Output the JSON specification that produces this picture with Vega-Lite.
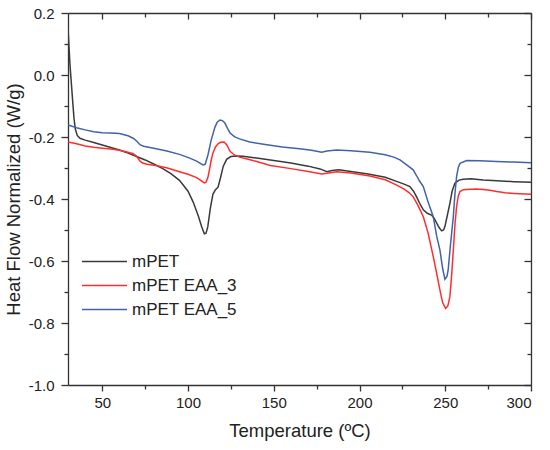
{
  "$schema": "https://vega.github.io/schema/vega-lite/v6.json",
  "width": 463,
  "height": 372,
  "autosize": {"type": "none"},
  "padding": {"left": 68, "top": 13, "right": 19, "bottom": 65},
  "background": "white",
  "config": {
    "view": {"stroke": null},
    "axis": {
      "grid": false,
      "domainColor": "#333333",
      "domainWidth": 1.3,
      "tickColor": "#333333",
      "tickWidth": 1.3,
      "labelFont": "Liberation Sans",
      "labelFontSize": 15,
      "labelColor": "#222222",
      "titleFont": "Liberation Sans",
      "titleFontSize": 18.5,
      "titleFontWeight": "normal",
      "titleColor": "#222222"
    },
    "legend": {
      "labelFont": "Liberation Sans",
      "labelFontSize": 17,
      "labelColor": "#222222"
    }
  },
  "data": {
    "values": [
      {"series": "mPET", "T": 30.0, "hf": 0.155},
      {"series": "mPET", "T": 30.5, "hf": 0.10},
      {"series": "mPET", "T": 31.2, "hf": 0.03},
      {"series": "mPET", "T": 32.0, "hf": -0.03},
      {"series": "mPET", "T": 32.8, "hf": -0.09},
      {"series": "mPET", "T": 33.5, "hf": -0.14},
      {"series": "mPET", "T": 34.3, "hf": -0.175},
      {"series": "mPET", "T": 35.4, "hf": -0.195},
      {"series": "mPET", "T": 37, "hf": -0.204},
      {"series": "mPET", "T": 40, "hf": -0.210},
      {"series": "mPET", "T": 45, "hf": -0.218},
      {"series": "mPET", "T": 50, "hf": -0.226},
      {"series": "mPET", "T": 55, "hf": -0.234},
      {"series": "mPET", "T": 60, "hf": -0.242},
      {"series": "mPET", "T": 65, "hf": -0.252},
      {"series": "mPET", "T": 70, "hf": -0.263},
      {"series": "mPET", "T": 75, "hf": -0.274},
      {"series": "mPET", "T": 80, "hf": -0.287},
      {"series": "mPET", "T": 85, "hf": -0.301},
      {"series": "mPET", "T": 90, "hf": -0.318},
      {"series": "mPET", "T": 95, "hf": -0.340},
      {"series": "mPET", "T": 100, "hf": -0.375},
      {"series": "mPET", "T": 103, "hf": -0.410},
      {"series": "mPET", "T": 106, "hf": -0.455},
      {"series": "mPET", "T": 108, "hf": -0.490},
      {"series": "mPET", "T": 109.5, "hf": -0.512},
      {"series": "mPET", "T": 110.5, "hf": -0.510},
      {"series": "mPET", "T": 111.5, "hf": -0.490},
      {"series": "mPET", "T": 113, "hf": -0.430},
      {"series": "mPET", "T": 114.5, "hf": -0.385},
      {"series": "mPET", "T": 116, "hf": -0.370},
      {"series": "mPET", "T": 117.5, "hf": -0.362},
      {"series": "mPET", "T": 119, "hf": -0.330},
      {"series": "mPET", "T": 120.5, "hf": -0.295},
      {"series": "mPET", "T": 122.5, "hf": -0.272},
      {"series": "mPET", "T": 125, "hf": -0.263},
      {"series": "mPET", "T": 128, "hf": -0.261},
      {"series": "mPET", "T": 132, "hf": -0.262},
      {"series": "mPET", "T": 140, "hf": -0.268},
      {"series": "mPET", "T": 150, "hf": -0.276},
      {"series": "mPET", "T": 160, "hf": -0.284},
      {"series": "mPET", "T": 170, "hf": -0.294},
      {"series": "mPET", "T": 177, "hf": -0.303},
      {"series": "mPET", "T": 181, "hf": -0.312},
      {"series": "mPET", "T": 184, "hf": -0.308},
      {"series": "mPET", "T": 188, "hf": -0.306},
      {"series": "mPET", "T": 195, "hf": -0.311},
      {"series": "mPET", "T": 205, "hf": -0.319},
      {"series": "mPET", "T": 215, "hf": -0.330},
      {"series": "mPET", "T": 222, "hf": -0.344},
      {"series": "mPET", "T": 226, "hf": -0.352},
      {"series": "mPET", "T": 229.4, "hf": -0.360},
      {"series": "mPET", "T": 231.5, "hf": -0.375},
      {"series": "mPET", "T": 233.3, "hf": -0.393},
      {"series": "mPET", "T": 235, "hf": -0.413},
      {"series": "mPET", "T": 237.2, "hf": -0.435},
      {"series": "mPET", "T": 239.5, "hf": -0.446},
      {"series": "mPET", "T": 242, "hf": -0.452},
      {"series": "mPET", "T": 243.5, "hf": -0.462},
      {"series": "mPET", "T": 245, "hf": -0.478},
      {"series": "mPET", "T": 246.5, "hf": -0.493},
      {"series": "mPET", "T": 247.9, "hf": -0.503},
      {"series": "mPET", "T": 249, "hf": -0.500},
      {"series": "mPET", "T": 249.8, "hf": -0.489},
      {"series": "mPET", "T": 251, "hf": -0.458},
      {"series": "mPET", "T": 252.7, "hf": -0.414},
      {"series": "mPET", "T": 254, "hf": -0.375},
      {"series": "mPET", "T": 255.6, "hf": -0.349},
      {"series": "mPET", "T": 258, "hf": -0.339},
      {"series": "mPET", "T": 260.5, "hf": -0.336},
      {"series": "mPET", "T": 265, "hf": -0.335},
      {"series": "mPET", "T": 272, "hf": -0.339},
      {"series": "mPET", "T": 280, "hf": -0.341},
      {"series": "mPET", "T": 290, "hf": -0.344},
      {"series": "mPET", "T": 300, "hf": -0.346},

      {"series": "mPET EAA_3", "T": 30, "hf": -0.216},
      {"series": "mPET EAA_3", "T": 35, "hf": -0.222},
      {"series": "mPET EAA_3", "T": 40, "hf": -0.229},
      {"series": "mPET EAA_3", "T": 45, "hf": -0.233},
      {"series": "mPET EAA_3", "T": 50, "hf": -0.236},
      {"series": "mPET EAA_3", "T": 55, "hf": -0.239},
      {"series": "mPET EAA_3", "T": 60, "hf": -0.243},
      {"series": "mPET EAA_3", "T": 65, "hf": -0.249},
      {"series": "mPET EAA_3", "T": 68, "hf": -0.254},
      {"series": "mPET EAA_3", "T": 70, "hf": -0.262},
      {"series": "mPET EAA_3", "T": 72, "hf": -0.278},
      {"series": "mPET EAA_3", "T": 73.5, "hf": -0.284},
      {"series": "mPET EAA_3", "T": 76, "hf": -0.288},
      {"series": "mPET EAA_3", "T": 82, "hf": -0.293},
      {"series": "mPET EAA_3", "T": 88, "hf": -0.300},
      {"series": "mPET EAA_3", "T": 95, "hf": -0.312},
      {"series": "mPET EAA_3", "T": 100, "hf": -0.320},
      {"series": "mPET EAA_3", "T": 105, "hf": -0.331},
      {"series": "mPET EAA_3", "T": 108, "hf": -0.342},
      {"series": "mPET EAA_3", "T": 109.5, "hf": -0.348},
      {"series": "mPET EAA_3", "T": 110.5, "hf": -0.346},
      {"series": "mPET EAA_3", "T": 111.6, "hf": -0.330},
      {"series": "mPET EAA_3", "T": 112.5, "hf": -0.305},
      {"series": "mPET EAA_3", "T": 113.5, "hf": -0.275},
      {"series": "mPET EAA_3", "T": 114.5, "hf": -0.252},
      {"series": "mPET EAA_3", "T": 116, "hf": -0.232},
      {"series": "mPET EAA_3", "T": 117.5, "hf": -0.222},
      {"series": "mPET EAA_3", "T": 119, "hf": -0.217},
      {"series": "mPET EAA_3", "T": 121, "hf": -0.216},
      {"series": "mPET EAA_3", "T": 122.5, "hf": -0.225},
      {"series": "mPET EAA_3", "T": 124.5, "hf": -0.246},
      {"series": "mPET EAA_3", "T": 127, "hf": -0.258},
      {"series": "mPET EAA_3", "T": 130, "hf": -0.265},
      {"series": "mPET EAA_3", "T": 135, "hf": -0.272},
      {"series": "mPET EAA_3", "T": 140, "hf": -0.279},
      {"series": "mPET EAA_3", "T": 148, "hf": -0.292},
      {"series": "mPET EAA_3", "T": 160, "hf": -0.302},
      {"series": "mPET EAA_3", "T": 170, "hf": -0.311},
      {"series": "mPET EAA_3", "T": 178, "hf": -0.319},
      {"series": "mPET EAA_3", "T": 181, "hf": -0.317},
      {"series": "mPET EAA_3", "T": 186.7, "hf": -0.312},
      {"series": "mPET EAA_3", "T": 195, "hf": -0.316},
      {"series": "mPET EAA_3", "T": 206, "hf": -0.326},
      {"series": "mPET EAA_3", "T": 215, "hf": -0.338},
      {"series": "mPET EAA_3", "T": 221.7, "hf": -0.355},
      {"series": "mPET EAA_3", "T": 226, "hf": -0.368},
      {"series": "mPET EAA_3", "T": 229, "hf": -0.380},
      {"series": "mPET EAA_3", "T": 231.3, "hf": -0.393},
      {"series": "mPET EAA_3", "T": 234, "hf": -0.420},
      {"series": "mPET EAA_3", "T": 237.2, "hf": -0.457},
      {"series": "mPET EAA_3", "T": 240, "hf": -0.510},
      {"series": "mPET EAA_3", "T": 243, "hf": -0.586},
      {"series": "mPET EAA_3", "T": 245, "hf": -0.640},
      {"series": "mPET EAA_3", "T": 246.9, "hf": -0.694},
      {"series": "mPET EAA_3", "T": 248.5, "hf": -0.735},
      {"series": "mPET EAA_3", "T": 250.2, "hf": -0.753},
      {"series": "mPET EAA_3", "T": 251.5, "hf": -0.745},
      {"series": "mPET EAA_3", "T": 252.7, "hf": -0.715},
      {"series": "mPET EAA_3", "T": 253.8, "hf": -0.640},
      {"series": "mPET EAA_3", "T": 254.7, "hf": -0.565},
      {"series": "mPET EAA_3", "T": 255.7, "hf": -0.480},
      {"series": "mPET EAA_3", "T": 256.6, "hf": -0.425},
      {"series": "mPET EAA_3", "T": 257.6, "hf": -0.390},
      {"series": "mPET EAA_3", "T": 258.6, "hf": -0.376},
      {"series": "mPET EAA_3", "T": 260.5, "hf": -0.370},
      {"series": "mPET EAA_3", "T": 262.5, "hf": -0.369},
      {"series": "mPET EAA_3", "T": 268, "hf": -0.368},
      {"series": "mPET EAA_3", "T": 272.2, "hf": -0.369},
      {"series": "mPET EAA_3", "T": 276, "hf": -0.372},
      {"series": "mPET EAA_3", "T": 280, "hf": -0.376},
      {"series": "mPET EAA_3", "T": 285, "hf": -0.380},
      {"series": "mPET EAA_3", "T": 290, "hf": -0.382},
      {"series": "mPET EAA_3", "T": 300, "hf": -0.385},

      {"series": "mPET EAA_5", "T": 30, "hf": -0.161},
      {"series": "mPET EAA_5", "T": 35, "hf": -0.170},
      {"series": "mPET EAA_5", "T": 40, "hf": -0.177},
      {"series": "mPET EAA_5", "T": 45, "hf": -0.183},
      {"series": "mPET EAA_5", "T": 50, "hf": -0.186},
      {"series": "mPET EAA_5", "T": 55, "hf": -0.187},
      {"series": "mPET EAA_5", "T": 60, "hf": -0.189},
      {"series": "mPET EAA_5", "T": 65, "hf": -0.196},
      {"series": "mPET EAA_5", "T": 68, "hf": -0.204},
      {"series": "mPET EAA_5", "T": 70, "hf": -0.213},
      {"series": "mPET EAA_5", "T": 72, "hf": -0.225},
      {"series": "mPET EAA_5", "T": 74, "hf": -0.230},
      {"series": "mPET EAA_5", "T": 80, "hf": -0.236},
      {"series": "mPET EAA_5", "T": 87.7, "hf": -0.245},
      {"series": "mPET EAA_5", "T": 95, "hf": -0.256},
      {"series": "mPET EAA_5", "T": 101, "hf": -0.268},
      {"series": "mPET EAA_5", "T": 105, "hf": -0.278},
      {"series": "mPET EAA_5", "T": 108.7, "hf": -0.290},
      {"series": "mPET EAA_5", "T": 110, "hf": -0.288},
      {"series": "mPET EAA_5", "T": 111.6, "hf": -0.258},
      {"series": "mPET EAA_5", "T": 113.5, "hf": -0.210},
      {"series": "mPET EAA_5", "T": 115.7, "hf": -0.168},
      {"series": "mPET EAA_5", "T": 117, "hf": -0.152},
      {"series": "mPET EAA_5", "T": 118.6, "hf": -0.145},
      {"series": "mPET EAA_5", "T": 120, "hf": -0.147},
      {"series": "mPET EAA_5", "T": 121.5, "hf": -0.155},
      {"series": "mPET EAA_5", "T": 123, "hf": -0.172},
      {"series": "mPET EAA_5", "T": 124.5, "hf": -0.187},
      {"series": "mPET EAA_5", "T": 127, "hf": -0.199},
      {"series": "mPET EAA_5", "T": 130, "hf": -0.206},
      {"series": "mPET EAA_5", "T": 136, "hf": -0.216},
      {"series": "mPET EAA_5", "T": 145, "hf": -0.224},
      {"series": "mPET EAA_5", "T": 155, "hf": -0.232},
      {"series": "mPET EAA_5", "T": 165, "hf": -0.238},
      {"series": "mPET EAA_5", "T": 172, "hf": -0.243},
      {"series": "mPET EAA_5", "T": 178, "hf": -0.249},
      {"series": "mPET EAA_5", "T": 181, "hf": -0.245},
      {"series": "mPET EAA_5", "T": 186.7, "hf": -0.242},
      {"series": "mPET EAA_5", "T": 195, "hf": -0.244},
      {"series": "mPET EAA_5", "T": 206, "hf": -0.249},
      {"series": "mPET EAA_5", "T": 215, "hf": -0.257},
      {"series": "mPET EAA_5", "T": 220, "hf": -0.265},
      {"series": "mPET EAA_5", "T": 223.6, "hf": -0.274},
      {"series": "mPET EAA_5", "T": 227.5, "hf": -0.290},
      {"series": "mPET EAA_5", "T": 231.3, "hf": -0.306},
      {"series": "mPET EAA_5", "T": 233.3, "hf": -0.325},
      {"series": "mPET EAA_5", "T": 235, "hf": -0.342},
      {"series": "mPET EAA_5", "T": 237.2, "hf": -0.360},
      {"series": "mPET EAA_5", "T": 240, "hf": -0.410},
      {"series": "mPET EAA_5", "T": 243, "hf": -0.457},
      {"series": "mPET EAA_5", "T": 245, "hf": -0.520},
      {"series": "mPET EAA_5", "T": 246.9, "hf": -0.565},
      {"series": "mPET EAA_5", "T": 248.5, "hf": -0.625},
      {"series": "mPET EAA_5", "T": 249.8, "hf": -0.659},
      {"series": "mPET EAA_5", "T": 251, "hf": -0.650},
      {"series": "mPET EAA_5", "T": 251.7, "hf": -0.629},
      {"series": "mPET EAA_5", "T": 253, "hf": -0.550},
      {"series": "mPET EAA_5", "T": 254.7, "hf": -0.457},
      {"series": "mPET EAA_5", "T": 255.7, "hf": -0.380},
      {"series": "mPET EAA_5", "T": 256.6, "hf": -0.328},
      {"series": "mPET EAA_5", "T": 257.6, "hf": -0.298},
      {"series": "mPET EAA_5", "T": 258.6, "hf": -0.285},
      {"series": "mPET EAA_5", "T": 262.5, "hf": -0.276},
      {"series": "mPET EAA_5", "T": 270, "hf": -0.277},
      {"series": "mPET EAA_5", "T": 280, "hf": -0.279},
      {"series": "mPET EAA_5", "T": 290, "hf": -0.281},
      {"series": "mPET EAA_5", "T": 300, "hf": -0.283}
    ]
  },
  "layer": [
    {
      "mark": {"type": "line", "strokeWidth": 1.5, "clip": true},
      "encoding": {
        "x": {
          "field": "T",
          "type": "quantitative",
          "scale": {"domain": [30, 300], "nice": false, "zero": false},
          "axis": {
            "orient": "bottom",
            "values": [50, 100, 150, 200, 250, 300],
            "tickSize": 6,
            "labelPadding": 4,
            "titlePadding": 11,
            "title": "Temperature (ºC)"
          }
        },
        "y": {
          "field": "hf",
          "type": "quantitative",
          "scale": {"domain": [-1.0, 0.2], "nice": false, "zero": false},
          "axis": {
            "orient": "left",
            "values": [-1.0, -0.8, -0.6, -0.4, -0.2, 0.0, 0.2],
            "format": ".1f",
            "labelExpr": "replace(datum.label, '−', '-')",
            "tickSize": 7,
            "labelPadding": 7,
            "titlePadding": 5,
            "title": "Heat Flow Normalized (W/g)"
          }
        },
        "color": {
          "field": "series",
          "type": "nominal",
          "scale": {
            "domain": ["mPET", "mPET EAA_3", "mPET EAA_5"],
            "range": ["#3a3a3a", "#ff2e2e", "#4462a8"]
          },
          "legend": {
            "orient": "none",
            "legendX": 28,
            "legendY": 240,
            "title": null,
            "padding": 0,
            "symbolType": "M-3,0H3",
            "symbolSize": 225,
            "symbolStrokeWidth": 1.5,
            "labelOffset": 19,
            "rowPadding": 6
          }
        }
      }
    },
    {
      "mark": {"type": "line", "opacity": 0},
      "encoding": {
        "x": {
          "field": "T",
          "type": "quantitative",
          "axis": {
            "orient": "bottom",
            "values": [75, 125, 175, 225, 275],
            "labels": false,
            "domain": false,
            "tickSize": 4,
            "title": null
          }
        },
        "y": {
          "field": "hf",
          "type": "quantitative",
          "axis": {
            "orient": "left",
            "values": [-0.9, -0.7, -0.5, -0.3, -0.1, 0.1],
            "labels": false,
            "domain": false,
            "tickSize": 4,
            "title": null
          }
        },
        "detail": {"field": "series"}
      }
    },
    {
      "mark": {"type": "line", "opacity": 0},
      "encoding": {
        "x": {
          "field": "T",
          "type": "quantitative",
          "axis": {
            "orient": "top",
            "values": [50, 100, 150, 200, 250, 300],
            "labels": false,
            "tickSize": -6,
            "title": null
          }
        },
        "y": {
          "field": "hf",
          "type": "quantitative",
          "axis": {
            "orient": "right",
            "values": [-1.0, -0.8, -0.6, -0.4, -0.2, 0.0, 0.2],
            "labels": false,
            "tickSize": -7,
            "title": null
          }
        },
        "detail": {"field": "series"}
      }
    },
    {
      "mark": {"type": "line", "opacity": 0},
      "encoding": {
        "x": {
          "field": "T",
          "type": "quantitative",
          "axis": {
            "orient": "top",
            "values": [75, 125, 175, 225, 275],
            "labels": false,
            "domain": false,
            "tickSize": -4,
            "title": null
          }
        },
        "y": {
          "field": "hf",
          "type": "quantitative",
          "axis": {
            "orient": "right",
            "values": [-0.9, -0.7, -0.5, -0.3, -0.1, 0.1],
            "labels": false,
            "domain": false,
            "tickSize": -4,
            "title": null
          }
        },
        "detail": {"field": "series"}
      }
    }
  ],
  "resolve": {"axis": {"x": "independent", "y": "independent"}}
}
